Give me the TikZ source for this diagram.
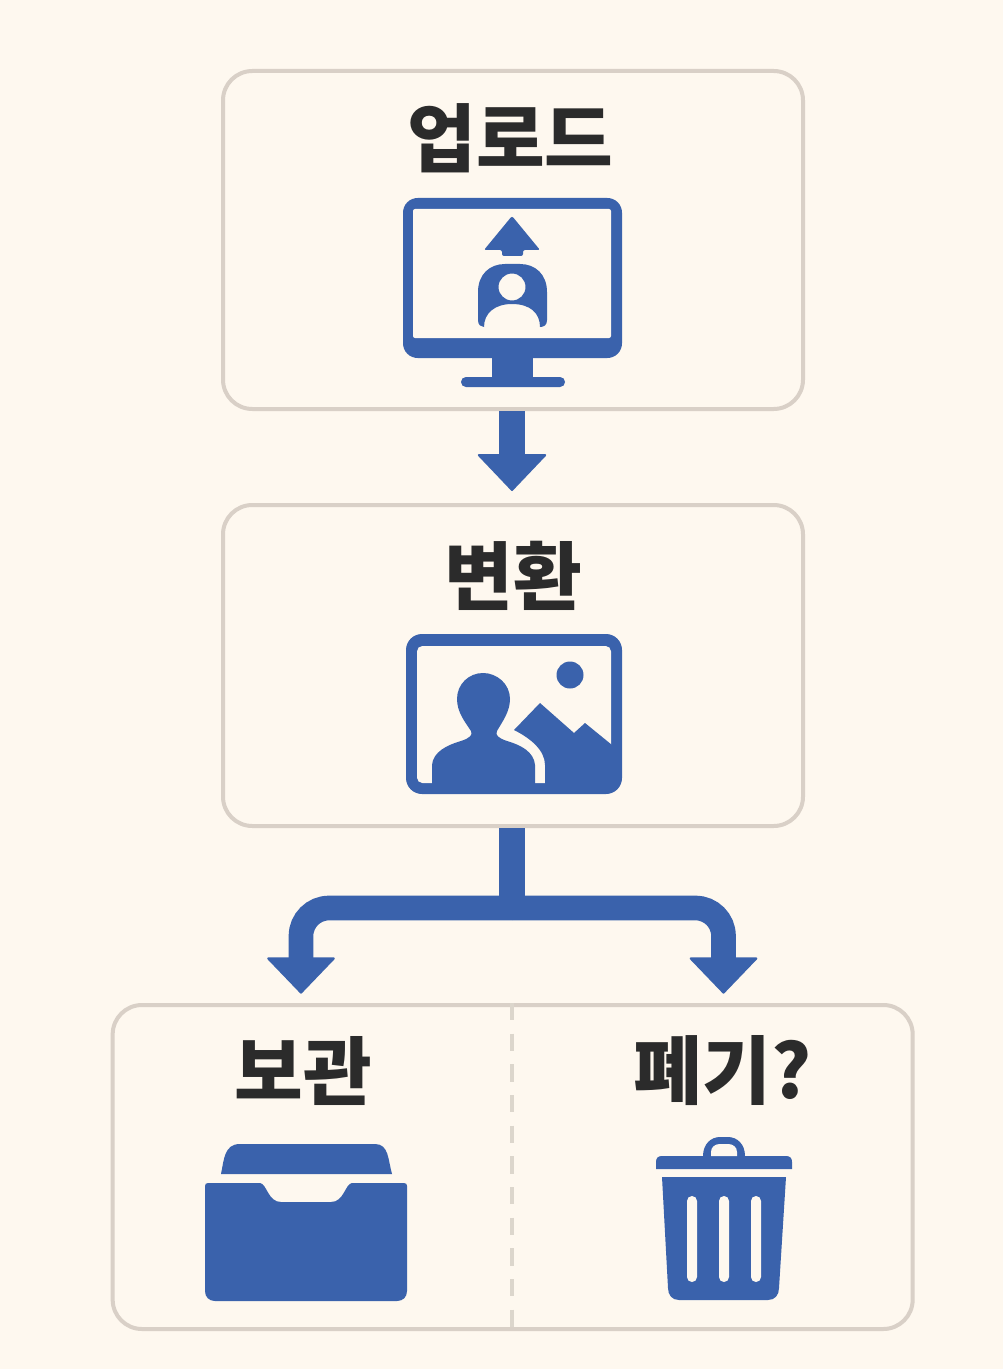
\documentclass[tikz,border=0pt]{standalone}
\usepackage{fontspec}
\usepackage{tikz}
\usetikzlibrary{positioning, arrows.meta}
\newfontfamily\krfont{Noto Sans CJK KR}
\definecolor{IconBlue}{RGB}{58, 98, 172}
\definecolor{PageBg}{RGB}{254, 248, 239}
\definecolor{BoxBorder}{RGB}{217, 208, 199}
\definecolor{DashBorder}{RGB}{220, 214, 204}
\definecolor{TitleInk}{RGB}{43, 43, 43}

\begin{document}
\begin{tikzpicture}[
    x=0.75pt, y=-0.75pt,
    boxstyle/.style={rectangle, draw=BoxBorder, line width=3pt, rounded corners=22pt},
    titlestyle/.style={text=TitleInk, font=\krfont\bfseries\fontsize{56}{60}\selectfont, inner sep=0pt},
    stemstyle/.style={draw=IconBlue, line width=19.5pt},
    arrowstyle/.style={draw=IconBlue, line width=18.5pt, -{Triangle[width=52.5pt, length=27.5pt, round, line width=1.5pt]}},
    iconstyle/.style={fill=IconBlue, even odd rule}
]

    % Page
    \fill [PageBg] (0,0) rectangle (1003,1369);
    \useasboundingbox (0,0) rectangle (1003,1369);

    % Layer 1: Boxes
    \node (box_upload) [boxstyle, minimum width=435pt, minimum height=253.5pt] at (513,240) {};
    \node (box_convert) [boxstyle, minimum width=435pt, minimum height=240.75pt, below=69pt of box_upload] {};
    \node (box_store) [boxstyle, minimum width=600pt, minimum height=243pt, below=131.25pt of box_convert, xshift=-0.25pt] {};

    % Layer 2: Titles
    \node (title_upload) [titlestyle] at (510.5,138) {업로드};
    \node (title_convert) [titlestyle] at (513.5,576) {변환};
    \node (title_keep) [titlestyle] at (303.5,1071) {보관};
    \node (title_drop) [titlestyle] at (722.5,1071) {폐기?};

    % Connections
    \coordinate (split) at (512,908);
    \coordinate (stem_end) at (512,920);
    \coordinate (keep_in) at (301,1003);
    \coordinate (drop_in) at (723.5,1003);
    \draw [stemstyle, -{Triangle[width=53pt, length=28pt, round, line width=1.5pt]}, shorten >=9pt] ([xshift=-0.75pt]box_upload.south) -- ([xshift=-0.75pt]box_convert.north);
    \draw [arrowstyle, rounded corners=21pt, shorten >=7pt] (split) -| (keep_in);
    \draw [arrowstyle, rounded corners=21pt, shorten >=7pt] (split) -| (drop_in);
    \draw [stemstyle] ([xshift=-0.75pt]box_convert.south) -- (stem_end);

    % Divider in the last box
    \draw [DashBorder, line width=3pt, dash pattern=on 13pt off 10pt] ([xshift=-0.4pt]box_store.north) -- ([xshift=-0.4pt]box_store.south);

    % Icon: monitor with person
    \fill [iconstyle, rounded corners=11pt] (403,198) rectangle (622,358);
    \fill [PageBg, rounded corners=1.5pt] (413,209) rectangle (611,338);
    \fill [IconBlue] (492,356) rectangle (533,380);
    \fill [IconBlue, rounded corners=3.7pt] (461,377) rectangle (565,387);
    \fill [IconBlue, rounded corners=1.5pt] (512,216) -- (540,250) -- (523,250) -- (523,256) -- (502,256) -- (502,250) -- (484,250) -- cycle;
    \fill [iconstyle] (478,320) -- (478,292) .. controls (478,274) and (490,264) .. (505,264) -- (520,264)
        .. controls (535,264) and (547,274) .. (547,292) -- (547,320)
        .. controls (547,325) and (544,327) .. (540,327)
        .. controls (540,313) and (530,304) .. (512,304)
        .. controls (495,304) and (484,313) .. (484,327)
        .. controls (481,327) and (478,325) .. (478,320) -- cycle
        (525.5,287) arc[start angle=0, end angle=360, radius=13.5];

    % Icon: photo with person and mountains
    \fill [IconBlue, rounded corners=12pt] (406,634) rectangle (622,794);
    \fill [PageBg, rounded corners=4pt] (417,646) rectangle (611,783);
    \fill [IconBlue] (570,675) circle [radius=13.5];
    \fill [IconBlue] (432,790) -- (432,765) .. controls (433,752) and (447,745) .. (461,741)
        .. controls (470,738) and (473,735) .. (471,731)
        .. controls (465,722) and (457,712) .. (457,699)
        .. controls (457,684) and (469,673) .. (483,673)
        .. controls (497,673) and (510,684) .. (510,699)
        .. controls (510,712) and (502,722) .. (497,731)
        .. controls (495,735) and (498,738) .. (507,741)
        .. controls (521,745) and (534,752) .. (535,765) -- (535,790) -- cycle;
    \fill [IconBlue] (514,730) -- (540,703) -- (574,733) -- (585,723) -- (612,745) -- (612,790) -- (545,790) -- (545,765)
        .. controls (545,750) and (530,738) .. (514,730) -- cycle;

    % Icon: archive tray
    \fill [IconBlue] (221,1174) .. controls (224,1160) and (224,1144) .. (240,1144) -- (375,1144)
        .. controls (389,1144) and (388,1160) .. (392,1174) -- cycle;
    \fill [IconBlue] (205,1186) .. controls (205,1184) and (206,1183) .. (208,1183) -- (260,1183)
        .. controls (267,1184) and (268,1202) .. (281,1202) -- (331,1202)
        .. controls (344,1202) and (345,1184) .. (352,1183) -- (404,1183)
        .. controls (406,1183) and (407,1184) .. (407,1186) -- (407,1291)
        .. controls (407,1297) and (403,1301) .. (397,1301) -- (215,1301)
        .. controls (209,1301) and (205,1297) .. (205,1291) -- cycle;

    % Icon: trash can
    \fill [IconBlue] (656,1169) -- (656,1162) .. controls (656,1158) and (658,1156) .. (662,1156) -- (703,1156)
        .. controls (703,1144) and (711,1137) .. (720,1137) -- (728,1137)
        .. controls (737,1137) and (745,1144) .. (745,1156) -- (786,1156)
        .. controls (790,1156) and (792,1158) .. (792,1162) -- (792,1169) -- cycle;
    \fill [PageBg] (711,1156) -- (711,1152) .. controls (711,1147) and (715,1144) .. (720,1144) -- (728,1144)
        .. controls (733,1144) and (737,1147) .. (737,1152) -- (737,1156) -- cycle;
    \fill [IconBlue] (662,1177) -- (786,1177) -- (779,1288) .. controls (779,1295) and (775,1300) .. (768,1300)
        -- (679,1300) .. controls (672,1300) and (668,1295) .. (668,1288) -- cycle;
    \foreach \slotx in {692,724,756} {
        \fill [PageBg, rounded corners=3.7pt] (\slotx-5,1196) rectangle (\slotx+5,1282);
    }

\end{tikzpicture}
\end{document}
